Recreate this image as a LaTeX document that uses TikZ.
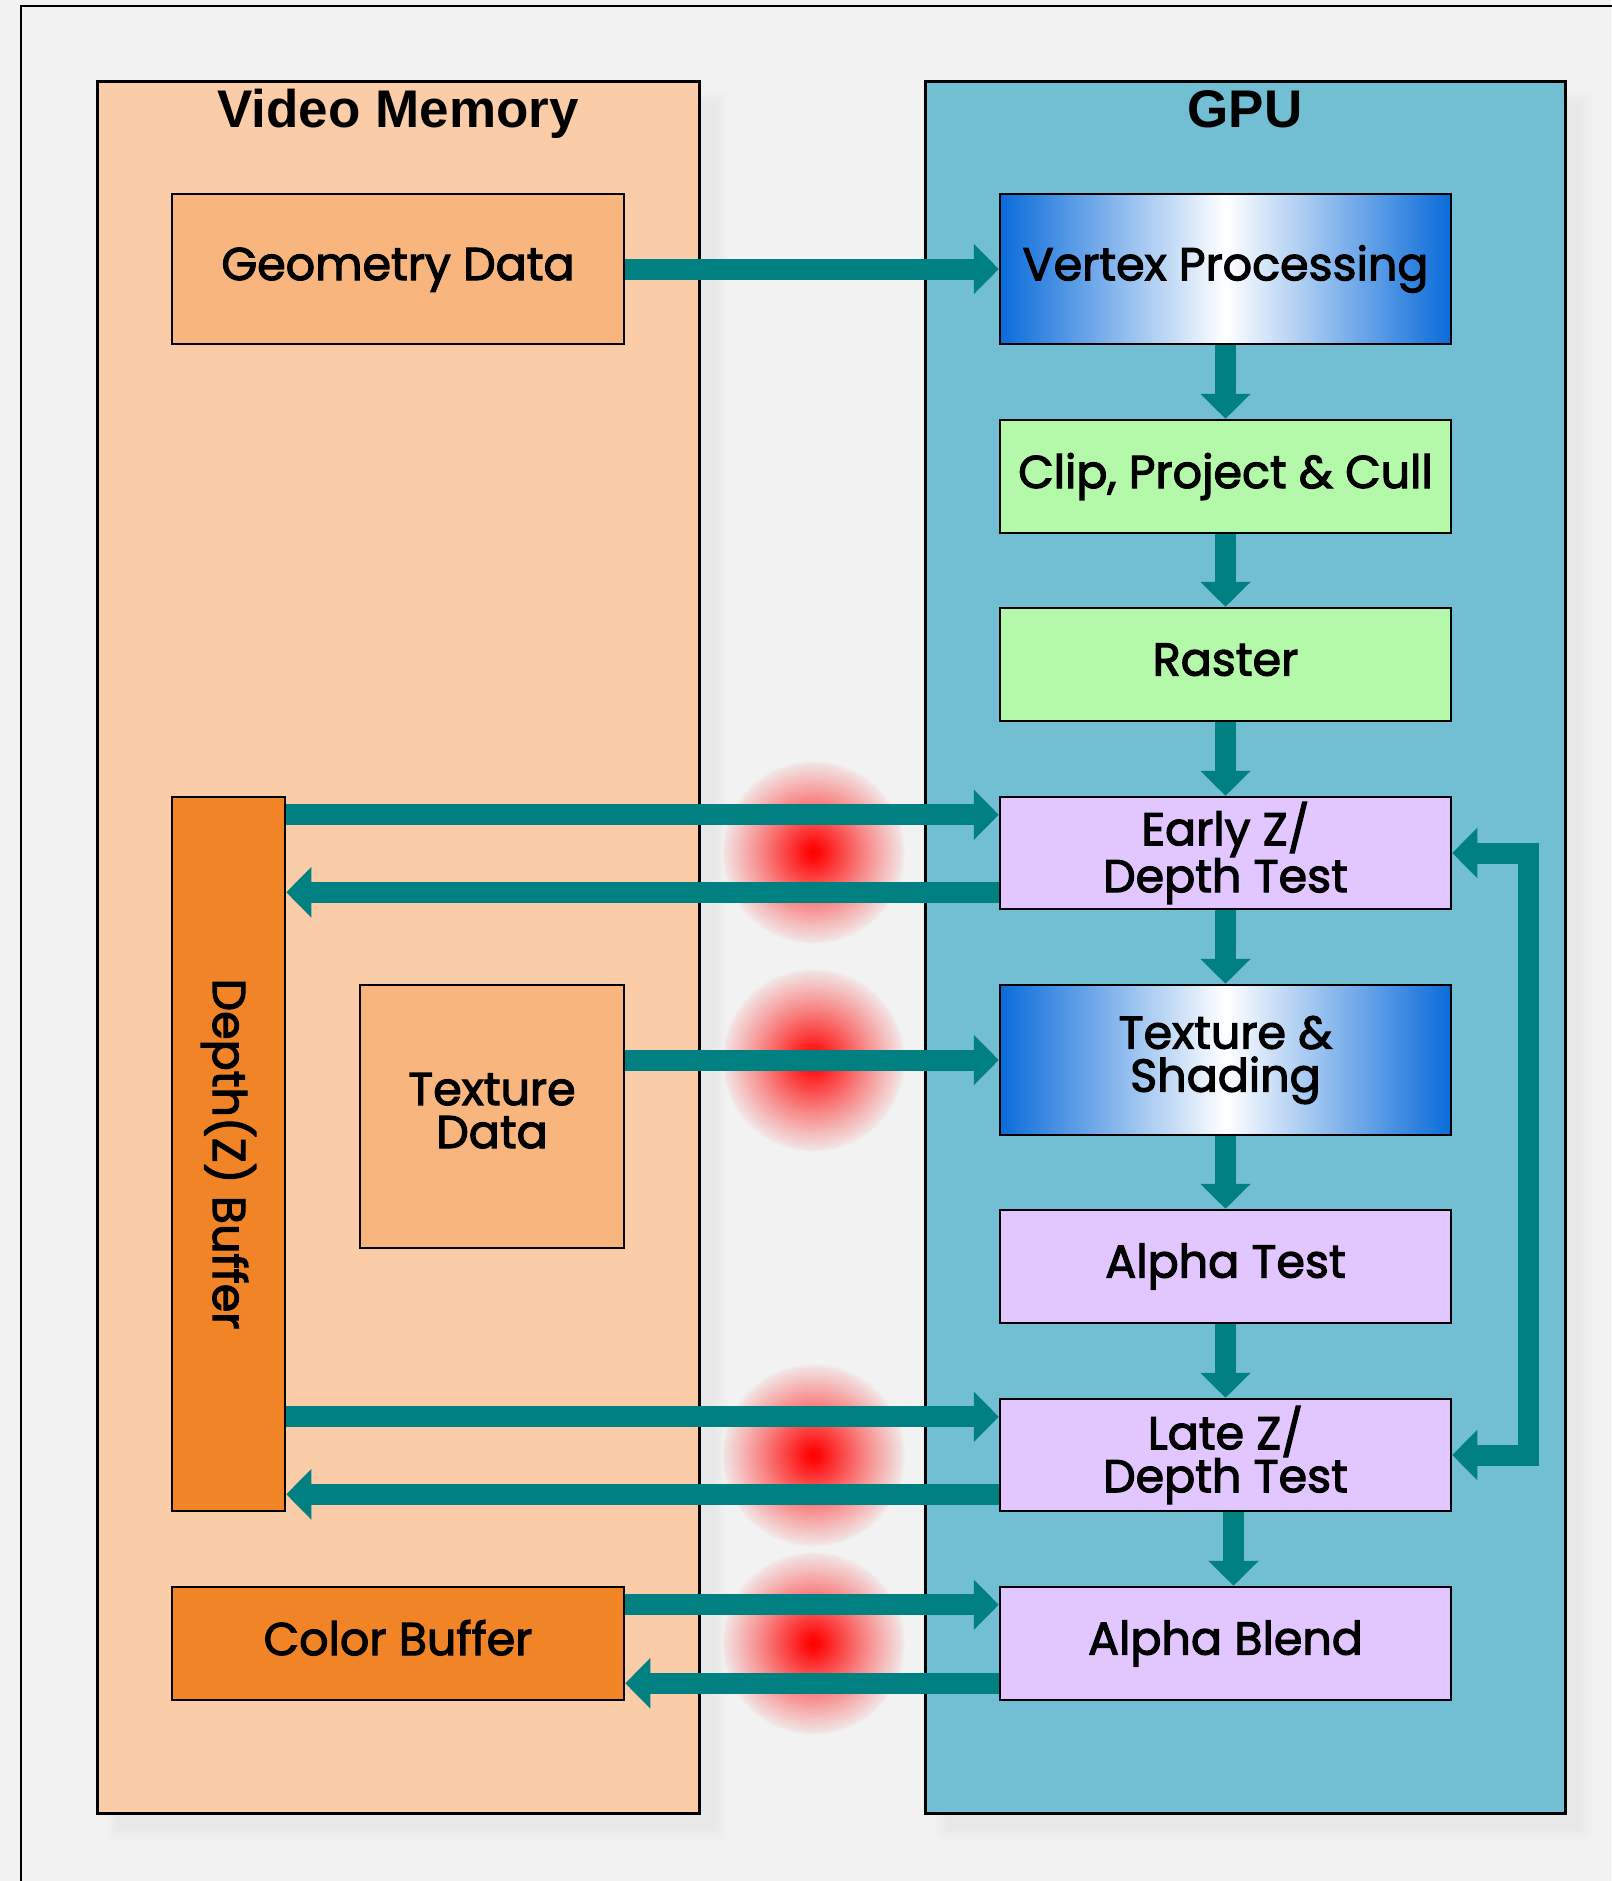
\documentclass[tikz,border=0pt]{standalone}
\usepackage{fontspec}
\setmainfont{Poppins}
\newfontfamily\boxfont{Poppins}[FakeBold=2.5]
\newfontfamily\titlefont{Liberation Sans}
\usetikzlibrary{arrows.meta,calc}
\definecolor{bgc}{HTML}{F2F2F2}
\definecolor{vmfill}{HTML}{FACCA8}
\definecolor{gpufill}{HTML}{72BED3}
\definecolor{sandy}{HTML}{F8B67E}
\definecolor{orng}{HTML}{F08427}
\definecolor{lgreen}{HTML}{B4F8AA}
\definecolor{lav}{HTML}{E1C6FF}
\definecolor{tealc}{HTML}{008080}
\definecolor{gblue}{HTML}{0A6BDA}
\pgfdeclareradialshading{redblob}{\pgfpoint{0bp}{0bp}}{color(0bp)=(red); color(2bp)=(red!95!bgc); color(7bp)=(red!74!bgc); color(14bp)=(red!45!bgc); color(20bp)=(red!22!bgc); color(24bp)=(red!7!bgc); color(25bp)=(bgc); color(50bp)=(bgc)}
\tikzset{
  panel/.style={draw=black, line width=3pt, inner sep=0pt},
  blk/.style={draw=black, line width=2.5pt, inner sep=0pt, align=center,
    font=\boxfont\fontsize{46}{43}\selectfont, text=black,
    execute at end node=\vphantom{lpy}},
  arr/.style={draw=tealc, line width=21pt, line join=miter,
    -{Triangle[width=49pt,length=25pt]}},
  biarr/.style={draw=tealc, line width=21pt, line join=miter,
    {Triangle[width=49pt,length=25pt]}-{Triangle[width=49pt,length=25pt]}},
  ttl/.style={font=\titlefont\bfseries\fontsize{53}{60}\selectfont, anchor=base},
  blob/.style={shading=redblob, draw=none}
}
\begin{document}
\begin{tikzpicture}[x={(1pt,0pt)}, y={(0pt,-1pt)}]
\useasboundingbox (0,0) rectangle (1611,1881);
\fill[bgc] (0,0) rectangle (1611,1881);
\draw[line width=1.5pt] (21,1900) -- (21,6) -- (1640,6);
% shadows
\foreach \k in {0,3,6,9,12}{
  \fill[black,opacity=0.009] (97+22-\k,82+22-\k) rectangle (699+16+\k,1813+16+\k);
  \fill[black,opacity=0.009] (925+22-\k,82+22-\k) rectangle (1565+16+\k,1813+16+\k);
}
% panels
\node[panel, fill=vmfill, minimum width=602pt, minimum height=1731pt] (vm) at (398,947.5) {};
\node[panel, fill=gpufill, minimum width=640pt, minimum height=1731pt] (gpu) at (1245,947.5) {};
\node[ttl] (vmt) at (398,128) {Video Memory};
\node[ttl] (gput) at (1245,128) {GPU};
% blobs
\foreach \yy in {852,1060,1455,1643}{
  \path[blob] (813,\yy) circle (92);
}
% GPU blocks
\node[blk, left color=gblue, right color=gblue, middle color=white, minimum width=451pt, minimum height=150pt] (vp) at (1225.5,269) {Vertex Processing};
\node[blk, fill=lgreen, minimum width=451pt, minimum height=113pt] (clip) at (1225.5,476.5) {Clip, Project \& Cull};
\node[blk, fill=lgreen, minimum width=451pt, minimum height=113pt] (ras) at (1225.5,664.5) {Raster};
\node[blk, fill=lav, minimum width=451pt, minimum height=112pt] (ez) at (1225.5,853) {Early Z/\\Depth Test};
\node[blk, left color=gblue, right color=gblue, middle color=white, minimum width=451pt, minimum height=150pt] (ts) at (1225.5,1060) {Texture \&\\Shading};
\node[blk, fill=lav, minimum width=451pt, minimum height=113pt] (at) at (1225.5,1266.5) {Alpha Test};
\node[blk, fill=lav, minimum width=451pt, minimum height=112pt] (lz) at (1225.5,1455) {Late Z/\\Depth Test};
\node[blk, fill=lav, minimum width=451pt, minimum height=113pt] (ab) at (1225.5,1643.5) {Alpha Blend};
% memory blocks
\node[blk, fill=sandy, minimum width=452pt, minimum height=150pt] (geo) at (398,269) {Geometry Data};
\node[blk, fill=orng, minimum width=113pt, minimum height=714pt] (dz) at (228.5,1154) {};
\node[font=\boxfont\fontsize{46}{43}\selectfont, rotate=-90] (dzt) at (dz.center) {Depth(Z) Buffer};
\node[blk, fill=sandy, minimum width=264pt, minimum height=263pt] (td) at (492,1116.5) {Texture\\Data};
\node[blk, fill=orng, minimum width=452pt, minimum height=113pt] (cb) at (398,1643.5) {Color Buffer};
% arrows
\draw[arr] (geo.east) -- (vp.west);
\draw[arr] (vp.south) -- (clip.north);
\draw[arr] (clip.south) -- (ras.north);
\draw[arr] (ras.south) -- (ez.north);
\draw[arr] (ez.south) -- (ts.north);
\draw[arr] (ts.south) -- (at.north);
\draw[arr] (at.south) -- (lz.north);
\draw[arr] ([xshift=8pt]lz.south) -- ([xshift=8pt]ab.north);
\coordinate (ezi) at ([yshift=-19pt]ez.north west);
\coordinate (ezo) at ([yshift=18pt]ez.south west);
\draw[arr] (ezi -| dz.east) -- (ezi);
\draw[arr] (ezo) -- (ezo -| dz.east);
\draw[arr] (ts.west -| td.east) -- (ts.west);
\coordinate (lzi) at ([yshift=-19pt]lz.north west);
\coordinate (lzo) at ([yshift=18pt]lz.south west);
\draw[arr] (lzi -| dz.east) -- (lzi);
\draw[arr] (lzo) -- (lzo -| dz.east);
\coordinate (abi) at ([yshift=-19pt]ab.north west);
\coordinate (abo) at ([yshift=18pt]ab.south west);
\draw[arr] (abi -| cb.east) -- (abi);
\draw[arr] (abo) -- (abo -| cb.east);
\draw[biarr] (lz.east) -- ++(76,0) |- (ez.east);
\end{tikzpicture}
\end{document}
